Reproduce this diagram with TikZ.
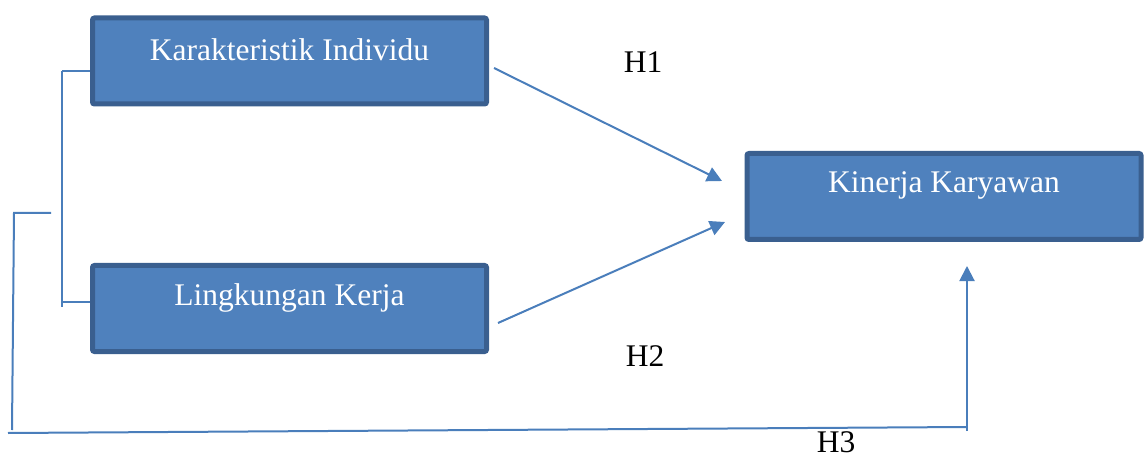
\documentclass[tikz,border=0pt]{standalone}
\usepackage{fontspec}
\setmainfont{Liberation Serif}
\usetikzlibrary{arrows.meta}
\definecolor{boxfill}{HTML}{4F81BD}
\definecolor{boxline}{HTML}{3A5F8F}
\definecolor{lnk}{HTML}{4A7EBB}
\tikzset{
  box/.style={draw=boxline, fill=boxfill, line width=5pt, rounded corners=2pt, minimum width=394pt, minimum height=86pt, inner sep=0pt},
  boxtext/.style={text=white, font=\fontsize{31.5}{36}\selectfont, inner sep=0pt},
  lbl/.style={text=black, font=\fontsize{31.5}{36}\selectfont, inner sep=0pt},
  link/.style={draw=lnk, line width=2pt},
  arr/.style={link, -{Triangle[length=15pt, width=15pt]}}
}
\begin{document}
\begin{tikzpicture}[x=1pt, y=-1pt]
\useasboundingbox (0,0) rectangle (1145,454);
\node[box] (k1) at (289.5,61) {};
\node[box] (k2) at (289.5,308.5) {};
\node[box] (k3) at (944,196.5) {};
\node[boxtext] (t1) at ([yshift=11pt]k1.center) {Karakteristik Individu};
\node[boxtext] (t2) at ([yshift=11pt]k2.center) {Lingkungan Kerja};
\node[boxtext] (t3) at ([yshift=11pt]k3.center) {Kinerja Karyawan};
\node[lbl] (h1) at (643,62) {H1};
\node[lbl] (h2) at (645,356) {H2};
\node[lbl] (h3) at (836,442) {H3};
% bracket
\coordinate (b1) at (62,71);
\coordinate (b2) at (62,307);
\coordinate (b3) at (62,302);
\draw[link] (b1) -- (b2);
\draw[link] (b1) -- (k1.west |- b1);
\draw[link] (b3) -- (k2.west |- b3);
% outer path
\coordinate (c1) at (51,213);
\coordinate (c2) at (14,213);
\coordinate (c3) at (12,430);
\coordinate (c4) at (8,433);
\coordinate (c5) at (967,427);
\coordinate (c6) at (967,431);
\coordinate (c7) at (967,266);
\draw[link] (c1) -- (c2) -- (c3);
\draw[link] (c4) -- (c5);
\draw[arr] (c6) -- (c7);
% arrows
\coordinate (a1s) at (494,68);
\coordinate (a1e) at (722,181);
\coordinate (a2s) at (498,323);
\coordinate (a2e) at (725,222);
\draw[arr] (a1s) -- (a1e);
\draw[arr] (a2s) -- (a2e);
\end{tikzpicture}
\end{document}
